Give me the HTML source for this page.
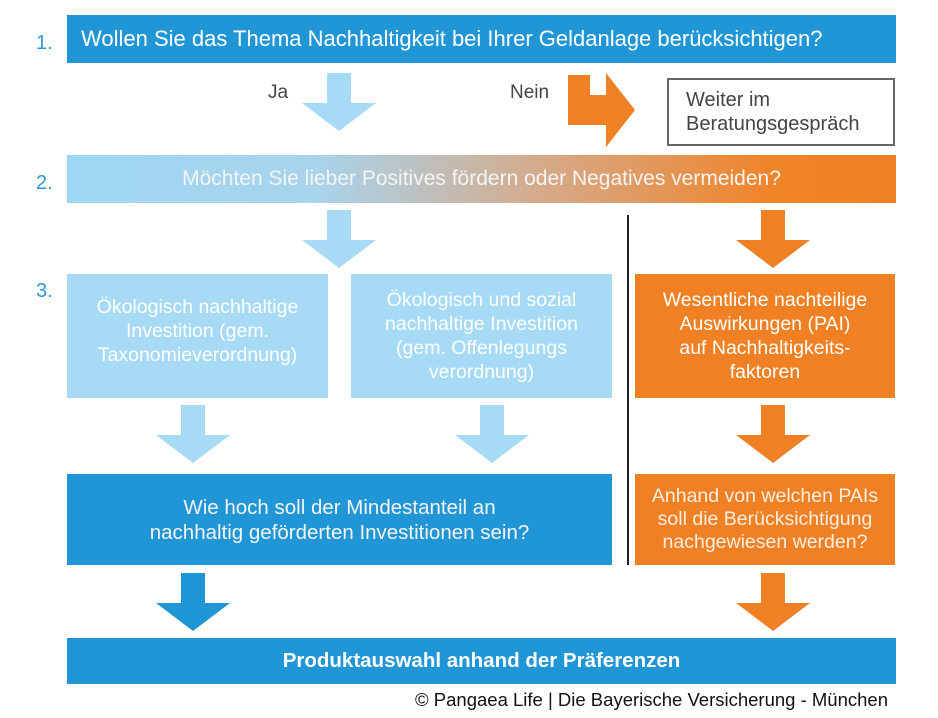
<!DOCTYPE html><html><head><style>
body{margin:0;width:938px;height:718px;background:#fff;position:relative;overflow:hidden;font-family:"Liberation Sans",sans-serif}
.b{position:absolute;display:flex;align-items:center;justify-content:center;text-align:center;color:#fff;box-sizing:border-box}
.n{position:absolute;color:#2a9ad6;font-size:20px}
svg{position:absolute;left:0;top:0}
</style></head><body>
<div class="n" style="left:36px;top:32px">1.</div>
<div class="n" style="left:36px;top:172px">2.</div>
<div class="n" style="left:36px;top:280px">3.</div>
<div class="b" style="left:67px;top:15px;width:829px;height:48px;background:#2196d6;justify-content:flex-start;padding-left:14px;font-size:22px">Wollen Sie das Thema Nachhaltigkeit bei Ihrer Geldanlage berücksichtigen?</div>
<div style="position:absolute;left:268px;top:82px;font-size:19px;color:#444">Ja</div>
<div style="position:absolute;left:510px;top:82px;font-size:19px;color:#444">Nein</div>
<div class="b" style="left:667px;top:78px;width:228px;height:68px;border:2px solid #666;color:#444;font-size:20px;justify-content:flex-start;text-align:left;padding-left:17px;line-height:24px">Weiter im<br>Beratungsgespräch</div>
<div class="b" style="left:67px;top:155px;width:829px;height:48px;background:linear-gradient(90deg,#9ed6f3 0%,#a8d4ec 30%,#d6a987 58%,#f08428 85%,#f08024 100%);font-size:21px;color:#f4f4f4">Möchten Sie lieber Positives fördern oder Negatives vermeiden?</div>
<div class="b" style="left:67px;top:274px;width:261px;height:124px;background:#a6daf5;font-size:19.5px;line-height:24px;padding-bottom:10px">Ökologisch nachhaltige<br>Investition (gem.<br>Taxonomieverordnung)</div>
<div class="b" style="left:351px;top:274px;width:261px;height:124px;background:#a6daf5;font-size:19.5px;line-height:24px">Ökologisch und sozial<br>nachhaltige Investition<br>(gem. Offenlegungs<br>verordnung)</div>
<div class="b" style="left:635px;top:274px;width:260px;height:124px;background:#f08024;font-size:19.5px;line-height:24px">Wesentliche nachteilige<br>Auswirkungen (PAI)<br>auf Nachhaltigkeits-<br>faktoren</div>
<div class="b" style="left:67px;top:474px;width:545px;height:91px;background:#2196d6;font-size:20.5px;line-height:25px;color:#f4f4f4">Wie hoch soll der Mindestanteil an<br>nachhaltig geförderten Investitionen sein?</div>
<div class="b" style="left:635px;top:474px;width:260px;height:91px;background:#f08024;font-size:19.5px;line-height:23px;color:#fbeee2">Anhand von welchen PAIs<br>soll die Berücksichtigung<br>nachgewiesen werden?</div>
<div class="b" style="left:67px;top:638px;width:829px;height:46px;background:#2196d6;font-size:20.5px;font-weight:bold">Produktauswahl anhand der Präferenzen</div>
<div style="position:absolute;right:50px;top:689px;font-size:18.5px;color:#111">© Pangaea Life | Die Bayerische Versicherung - München</div>
<svg width="938" height="718">
<defs><polygon id="a" points="-12,0 12,0 12,30 37,30 0,58 -37,30 -12,30"/></defs>
<use href="#a" x="339" y="73" fill="#a6daf5"/>
<use href="#a" x="339" y="210" fill="#a6daf5"/>
<use href="#a" x="773" y="210" fill="#f08024"/>
<use href="#a" x="193" y="405" fill="#a6daf5"/>
<use href="#a" x="492" y="405" fill="#a6daf5"/>
<use href="#a" x="773" y="405" fill="#f08024"/>
<use href="#a" x="193" y="573" fill="#2196d6"/>
<use href="#a" x="773" y="573" fill="#f08024"/>
<polygon points="568,75 590,75 590,95 606,95 606,73 635,110 606,147 606,125 568,125" fill="#f08024"/>
<line x1="628" y1="215" x2="628" y2="565" stroke="#222" stroke-width="2"/>
</svg>
</body></html>
